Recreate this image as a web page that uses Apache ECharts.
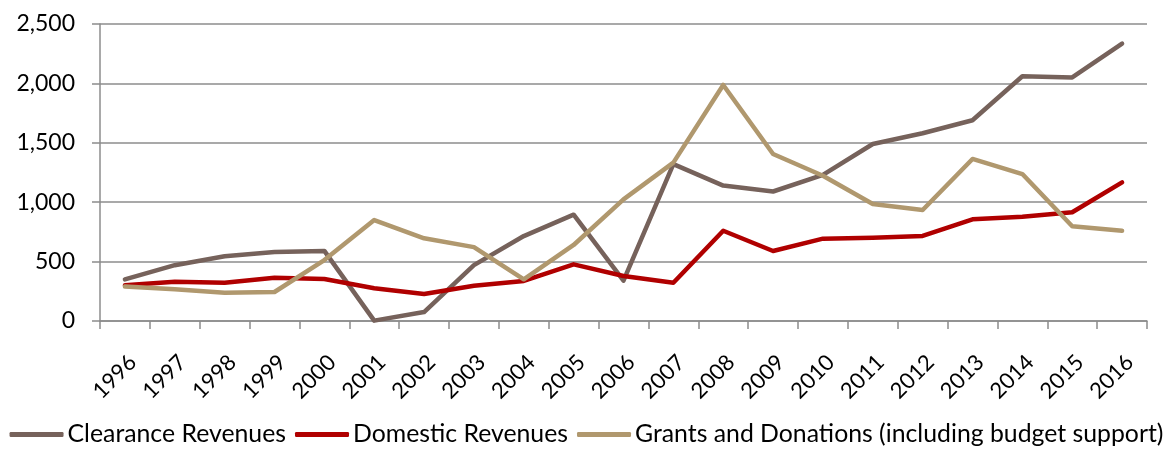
<!DOCTYPE html>
<html>
<head>
<meta charset="utf-8">
<script src="https://cdn.jsdelivr.net/npm/echarts@6/dist/echarts.min.js"></script>
<style>
  html, body { margin: 0; padding: 0; background: #fff; }
  #chart { width: 1173px; height: 452px; }
</style>
</head>
<body>
<div id="chart"></div>
<script>
// Revenue components, 1996-2016
const years = ['1996','1997','1998','1999','2000','2001','2002','2003','2004','2005','2006',
               '2007','2008','2009','2010','2011','2012','2013','2014','2015','2016'];
const clearanceRevenues = [350, 470, 545, 580, 590, 3, 75, 470, 715, 895, 340,
                           1320, 1140, 1090, 1230, 1490, 1580, 1690, 2060, 2050, 2335];
const domesticRevenues = [300, 330, 322, 365, 354, 275, 227, 297, 337, 477, 379,
                          322, 760, 589, 693, 701, 716, 856, 878, 915, 1167];
const grantsAndDonations = [290, 267, 238, 244, 513, 850, 696, 622, 351, 640, 1024,
                            1333, 1987, 1406, 1223, 985, 934, 1364, 1237, 797, 760];
const yTicks = [0, 500, 1000, 1500, 2000, 2500];

const seriesNames = ['Clearance Revenues', 'Domestic Revenues', 'Grants and Donations (including budget support)'];
const seriesColors = ['#76625B', '#B00000', '#B0986E'];
const seriesData = [clearanceRevenues, domesticRevenues, grantsAndDonations];

const font = 'Lato, "Open Sans", sans-serif';
const axisGray = '#8C8C8C';

const chart = echarts.init(document.getElementById('chart'), null, { renderer: 'canvas' });
chart.setOption({
  animation: false,
  grid: { left: 100, right: 26, top: 24, bottom: 131 },
  legend: {
    bottom: 0,
    left: 'center',
    icon: 'roundRect',
    itemWidth: 54,
    itemHeight: 5,
    itemGap: 9,
    textStyle: { fontFamily: font, fontSize: 24.8, color: '#000', padding: [0, 0, 0, -1] },
    data: seriesNames
  },
  xAxis: {
    type: 'category',
    data: years,
    boundaryGap: true,
    axisLine: { lineStyle: { color: axisGray, width: 1.5 } },
    axisTick: { show: true, interval: 0, length: 8, lineStyle: { color: axisGray, width: 1.5 } },
    axisLabel: {
      interval: 0, rotate: 45, margin: 30, verticalAlign: 'top',
      fontFamily: font, fontSize: 22, color: '#000'
    }
  },
  yAxis: {
    type: 'value',
    min: yTicks[0],
    max: yTicks[yTicks.length - 1],
    interval: 500,
    axisLine: { show: true, lineStyle: { color: axisGray, width: 1.5 } },
    axisTick: { show: true, length: 8, lineStyle: { color: axisGray, width: 1.5 } },
    splitLine: { lineStyle: { color: axisGray, width: 1.5 } },
    axisLabel: {
      margin: 25,
      fontFamily: font, fontSize: 23, color: '#000',
      formatter: v => v.toLocaleString('en-US')
    }
  },
  series: seriesNames.map((name, i) => ({
    name,
    type: 'line',
    data: seriesData[i],
    symbol: 'none',
    color: seriesColors[i],
    lineStyle: { width: 4.5, color: seriesColors[i], cap: 'round', join: 'round' }
  }))
});
</script>
</body>
</html>
